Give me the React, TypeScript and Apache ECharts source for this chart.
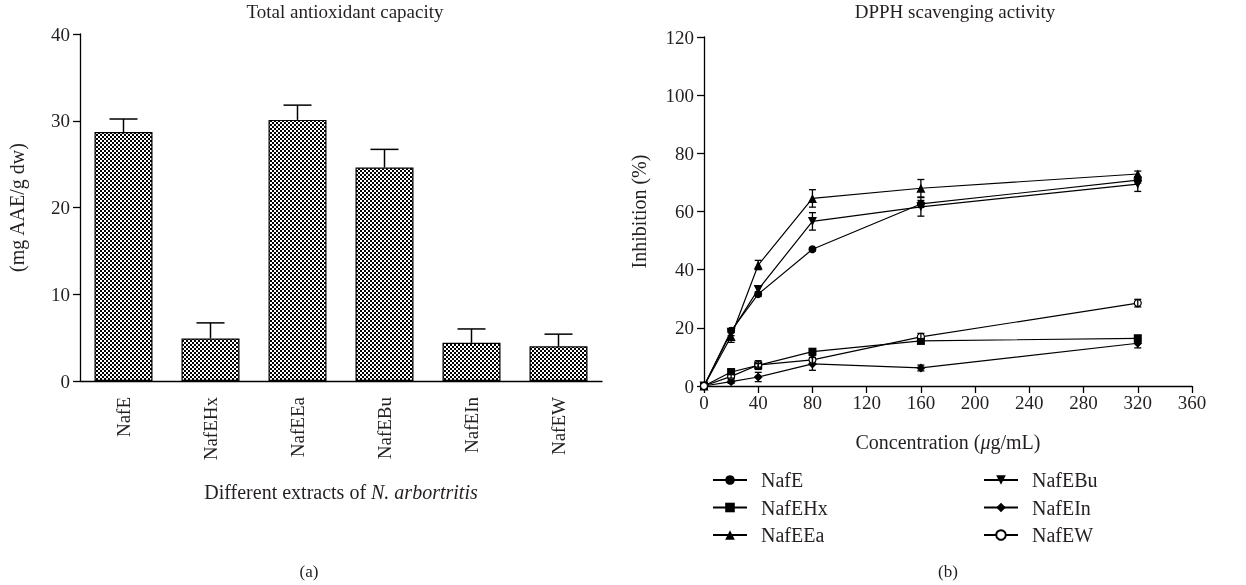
import React, { useEffect, useRef } from "react";
import * as echarts from "echarts";

const barCategories = ["NafE", "NafEHx", "NafEEa", "NafEBu", "NafEIn", "NafEW"];
const barValues = [28.7, 4.9, 30.1, 24.6, 4.4, 4.0];
const barErrors = [1.5, 1.8, 1.7, 2.1, 1.6, 1.4];

const concentrations = [0, 20, 40, 80, 160, 320];
const lineNames = ["NafE", "NafEHx", "NafEEa", "NafEBu", "NafEIn", "NafEW"];
const nafE = [0, 19, 31.6, 47, 62.6, 70.8];
const nafEHx = [0, 4.8, 7.1, 11.8, 15.5, 16.4];
const nafEEa = [0, 17, 41.6, 64.5, 68, 72.9];
const nafEBu = [0, 18.5, 33.2, 56.6, 61.6, 69.4];
const nafEIn = [0, 1.5, 3.1, 7.6, 6.2, 14.7];
const nafEW = [0, 3.3, 7.2, 9.0, 16.9, 28.5];
const errE = [0, 0.6, 0.8, 0.6, 1.2, 1.0];
const errEHx = [0, 0.5, 0.6, 0.6, 0.8, 1.0];
const errEEa = [0, 2.0, 1.6, 3.0, 3.0, 1.0];
const errEBu = [0, 1.2, 1.2, 3.0, 3.2, 2.5];
const errEIn = [0, 0.6, 1.6, 2.2, 1.0, 1.6];
const errEW = [0, 0.6, 1.5, 1.5, 1.2, 1.3];

const lineValues = [nafE, nafEHx, nafEEa, nafEBu, nafEIn, nafEW];
const lineErrors = [errE, errEHx, errEEa, errEBu, errEIn, errEW];
const lineSymbols = ["circle", "rect", "triangle", "path://M0,0 L10,0 L5,9 Z", "diamond", "circle"];
const lineSymbolSizes = [8, 8, 9, 9, 9, 7];

const FONT = "Liberation Serif";
const INK = "#231f20";

export default function App() {
  const ref = useRef<HTMLDivElement>(null);
  useEffect(() => {
    if (!ref.current) return;
    const chart = echarts.init(ref.current, undefined, { renderer: "svg" });

    const cv = document.createElement("canvas");
    cv.width = 4;
    cv.height = 4;
    const ctx = cv.getContext("2d")!;
    ctx.fillStyle = "#000";
    ctx.fillRect(0, 0, 4, 4);
    ctx.fillStyle = "#fff";
    ctx.fillRect(0, 0, 2, 2);
    ctx.fillRect(2, 2, 2, 2);

    const lineSeries: any[] = lineNames.map((name, i) => ({
      name,
      type: "line",
      xAxisIndex: 1,
      yAxisIndex: 1,
      data: concentrations.map((c, j) => [c, lineValues[i][j]]),
      symbol: lineSymbols[i],
      symbolSize: lineSymbolSizes[i],
      showAllSymbol: true,
      lineStyle: { color: "#000", width: 1.2 },
      itemStyle: {
        color: i === 5 ? "#fff" : "#000",
        borderColor: "#000",
        borderWidth: i === 5 ? 1.2 : 0,
      },
      z: 3,
    }));

    const lineErrSeries: any[] = lineNames.map((name, i) => ({
      name: name + "_err",
      type: "custom",
      xAxisIndex: 1,
      yAxisIndex: 1,
      data: concentrations.map((c, j) => [c, lineValues[i][j], lineErrors[i][j]]),
      z: 4,
      renderItem: (params: any, api: any) => {
        const x = api.value(0);
        const y = api.value(1);
        const e = api.value(2);
        if (!e) return null;
        const top = api.coord([x, y + e]);
        const bot = api.coord([x, y - e]);
        const w = 3.5;
        const st = { stroke: "#000", lineWidth: 1.3 };
        return {
          type: "group",
          children: [
            { type: "line", shape: { x1: top[0], y1: top[1], x2: bot[0], y2: bot[1] }, style: st },
            { type: "line", shape: { x1: top[0] - w, y1: top[1], x2: top[0] + w, y2: top[1] }, style: st },
            { type: "line", shape: { x1: bot[0] - w, y1: bot[1], x2: bot[0] + w, y2: bot[1] }, style: st },
          ],
        };
      },
    }));

    const legendText = { fontFamily: FONT, fontSize: 20, color: INK, lineHeight: 20, padding: [0, 0, 0, 9] };
    const titleStyle = { fontFamily: FONT, fontSize: 19, fontWeight: "normal", color: INK };
    const tickStyle = { fontFamily: FONT, fontSize: 19, color: INK };
    const nameStyle = { fontFamily: FONT, fontSize: 20, color: INK };

    const option: any = {
      animation: false,
      title: [
        { text: "Total antioxidant capacity", left: 340, top: -3, textAlign: "center", textStyle: titleStyle },
        { text: "DPPH scavenging activity", left: 950, top: -3, textAlign: "center", textStyle: titleStyle },
        { text: "(a)", left: 304, top: 558, textAlign: "center", textStyle: { ...titleStyle, fontSize: 17 } },
        { text: "(b)", left: 943, top: 558, textAlign: "center", textStyle: { ...titleStyle, fontSize: 17 } },
      ],
      legend: [
        {
          orient: "vertical", left: 707, top: 465, itemWidth: 34, itemHeight: 12, itemGap: 7.5,
          data: lineNames.slice(0, 3), textStyle: legendText, selectedMode: false,
        },
        {
          orient: "vertical", left: 978, top: 465, itemWidth: 34, itemHeight: 12, itemGap: 7.5,
          data: lineNames.slice(3), textStyle: legendText, selectedMode: false,
        },
      ],
      grid: [
        { left: 80, top: 34, width: 522, height: 347 },
        { left: 704, top: 37, width: 488, height: 349 },
      ],
      xAxis: [
        {
          type: "category", gridIndex: 0, data: barCategories,
          axisLine: { lineStyle: { color: "#000", width: 1.3 } },
          axisTick: { alignWithLabel: true, length: 8, lineStyle: { color: "#000", width: 1.3 } },
          axisLabel: { rotate: 90, ...tickStyle, margin: 16 },
          name: "{a|Different extracts of }{i|N. arbortritis}",
          nameLocation: "middle", nameGap: 101,
          nameTextStyle: {
            rich: {
              a: nameStyle,
              i: { ...nameStyle, fontStyle: "italic" },
            },
          },
        },
        {
          type: "value", gridIndex: 1, min: 0, max: 360, interval: 40,
          splitLine: { show: false },
          axisLine: { onZero: false, lineStyle: { color: "#000", width: 1.3 } },
          axisTick: { length: 7, lineStyle: { color: "#000", width: 1.3 } },
          axisLabel: { ...tickStyle, margin: 7 },
          name: "{a|Concentration (}{i|μ}{a|g/mL)}",
          nameLocation: "middle", nameGap: 46,
          nameTextStyle: {
            rich: {
              a: nameStyle,
              i: { ...nameStyle, fontStyle: "italic" },
            },
          },
        },
      ],
      yAxis: [
        {
          type: "value", gridIndex: 0, min: 0, max: 40, interval: 10,
          splitLine: { show: false },
          axisLine: { show: true, lineStyle: { color: "#000", width: 1.3 } },
          axisTick: { show: true, length: 7, lineStyle: { color: "#000", width: 1.3 } },
          axisLabel: { ...tickStyle, margin: 10 },
          name: "(mg AAE/g dw)", nameLocation: "middle", nameGap: 53, nameRotate: 90,
          nameTextStyle: nameStyle,
        },
        {
          type: "value", gridIndex: 1, min: 0, max: 120, interval: 20,
          splitLine: { show: false },
          axisLine: { show: true, onZero: false, lineStyle: { color: "#000", width: 1.3 } },
          axisTick: { show: true, length: 7, lineStyle: { color: "#000", width: 1.3 } },
          axisLabel: { ...tickStyle, margin: 10 },
          name: "Inhibition (%)", nameLocation: "middle", nameGap: 55, nameRotate: 90,
          nameTextStyle: nameStyle,
        },
      ],
      series: [
        {
          name: "TAC",
          type: "bar",
          xAxisIndex: 0,
          yAxisIndex: 0,
          data: barValues,
          barWidth: 58,
          itemStyle: { color: { image: cv, repeat: "repeat" } as any, borderColor: "#000", borderWidth: 1.2 },
          z: 2,
        },
        {
          name: "TAC_err",
          type: "custom",
          xAxisIndex: 0,
          yAxisIndex: 0,
          data: barValues.map((v, i) => [i, v, barErrors[i]]),
          z: 3,
          renderItem: (params: any, api: any) => {
            const base = api.coord([api.value(0), api.value(1)]);
            const top = api.coord([api.value(0), api.value(1) + api.value(2)]);
            const w = 14;
            const st = { stroke: "#000", lineWidth: 1.5 };
            return {
              type: "group",
              children: [
                { type: "line", shape: { x1: base[0], y1: base[1], x2: top[0], y2: top[1] }, style: st },
                { type: "line", shape: { x1: top[0] - w, y1: top[1], x2: top[0] + w, y2: top[1] }, style: st },
              ],
            };
          },
        },
        ...lineSeries,
        ...lineErrSeries,
      ],
    };
    chart.setOption(option);
    return () => chart.dispose();
  }, []);
  return <div ref={ref} style={{ position: "fixed", left: 0, top: 0, width: 1246, height: 585 }} />;
}
